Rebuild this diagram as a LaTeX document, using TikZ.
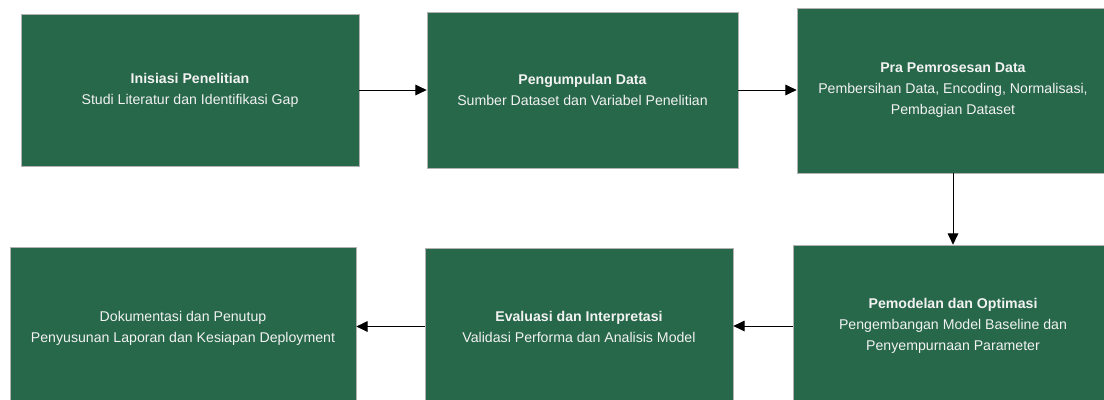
\documentclass[tikz,border=0pt]{standalone}
\usepackage{fontspec}
\setmainfont{Liberation Sans}
\usetikzlibrary{arrows.meta,shadows}

\definecolor{stagegreen}{RGB}{39,103,74}
\definecolor{stagetext}{RGB}{242,242,242}

\tikzset{
  stagebox/.style={draw=black!30, line width=0.5pt, fill=stagegreen, text=stagetext,
    align=center, inner sep=2pt, font=\fontsize{10.6}{15.75}\selectfont,
    drop shadow={opacity=0.18, shadow xshift=0.8pt, shadow yshift=-0.8pt}},
  flow/.style={line width=0.7pt, -{Triangle[length=8.5pt,width=8pt]}}
}

\begin{document}
\begin{tikzpicture}[x=0.75pt, y=-0.75pt]

% page
\clip (0,0) rectangle (1104,400);
\fill[white] (0,0) rectangle (1104,400);

% top row
\node[stagebox, minimum width=253.5pt, minimum height=114pt] (init) at (190,90)
  {\textbf{Inisiasi Penelitian}\\Studi Literatur dan Identifikasi Gap};
\node[stagebox, minimum width=233.25pt, minimum height=117pt] (kumpul) at (582.5,90)
  {\textbf{Pengumpulan Data}\\Sumber Dataset dan Variabel Penelitian};
\node[stagebox, minimum width=234pt, minimum height=123.75pt] (prapro) at (953,90.5)
  {\textbf{Pra Pemrosesan Data}\\Pembersihan Data, Encoding, Normalisasi,\\Pembagian Dataset};

% bottom row
\node[stagebox, minimum width=240pt, minimum height=121.5pt] (model) at (953,326)
  {\textbf{Pemodelan dan Optimasi}\\Pengembangan Model Baseline dan\\Penyempurnaan Parameter};
\node[stagebox, minimum width=231pt, minimum height=117.75pt] (eval) at (579,326.5)
  {\textbf{Evaluasi dan Interpretasi}\\Validasi Performa dan Analisis Model};
\node[stagebox, minimum width=259.5pt, minimum height=121.5pt] (doku) at (183,328)
  {Dokumentasi dan Penutup\\Penyusunan Laporan dan Kesiapan Deployment};

% connectors
\draw[flow] (init.east) -- (init.east -| kumpul.west);
\draw[flow] (kumpul.east) -- (kumpul.east -| prapro.west);
\draw[flow] (prapro.south) -- (model.north);
\draw[flow] (model.west) -- (model.west -| eval.east);
\draw[flow] (eval.west) -- (eval.west -| doku.east);

\end{tikzpicture}
\end{document}
